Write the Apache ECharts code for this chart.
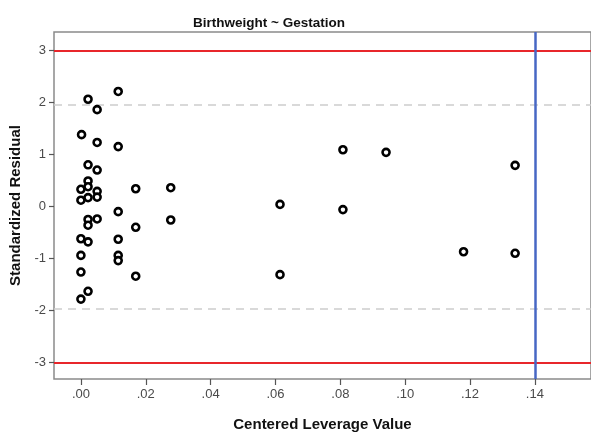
<!DOCTYPE html>
<html>
<head>
<meta charset="utf-8">
<script src="https://cdn.jsdelivr.net/npm/echarts@6/dist/echarts.min.js"></script>
<style>
  html, body { margin: 0; padding: 0; background: #fff; }
  #main { width: 591px; height: 437px; }
</style>
</head>
<body>
<div id="main"></div>
<script>
    // centered leverage (x) and standardized residual (y)
    var leverage = [
        0.0002, 0.0000, 0.0000, 0.0000, 0.0000, 0.0000, 0.0000,
        0.0022, 0.0022, 0.0022, 0.0022, 0.0022, 0.0022, 0.0022, 0.0022, 0.0022,
        0.0050, 0.0050, 0.0050, 0.0050, 0.0050, 0.0050,
        0.0115, 0.0115, 0.0115, 0.0115, 0.0115, 0.0115,
        0.0169, 0.0169, 0.0169,
        0.0277, 0.0277,
        0.0614, 0.0614,
        0.0808, 0.0808,
        0.0941,
        0.1180,
        0.1339, 0.1339
    ];
    var residual = [
        1.38, 0.33, 0.12, -0.62, -0.94, -1.26, -1.78,
        2.06, 0.80, 0.49, 0.38, 0.17, -0.25, -0.36, -0.68, -1.63,
        1.86, 1.23, 0.70, 0.29, 0.18, -0.24,
        2.21, 1.15, -0.10, -0.63, -0.94, -1.04,
        0.34, -0.40, -1.34,
        0.36, -0.26,
        0.04, -1.31,
        1.09, -0.06,
        1.04,
        -0.87,
        0.79, -0.90
    ];
    var xTicks = [0, 0.02, 0.04, 0.06, 0.08, 0.10, 0.12, 0.14];
    var yTicks = [-3, -2, -1, 0, 1, 2, 3];
    var redLines = [-3, 3];
    var dashLines = [-1.96, 1.96];
    var leverageCut = 0.14;

    var chart = echarts.init(document.getElementById('main'));

    var points = [];
    for (var i = 0; i < leverage.length; i++) {
        points.push([leverage[i], residual[i]]);
    }

    var font = '"Liberation Sans", Arial, sans-serif';

    var option = {
        animation: false,
        backgroundColor: '#fff',
        title: {
            text: 'Birthweight ~ Gestation',
            left: 264,
            top: 11,
            textAlign: 'center',
            textStyle: { fontFamily: font, fontSize: 13.5, fontWeight: 'bold', color: '#111' }
        },
        grid: {
            left: 54, top: 32, right: -2, bottom: 51,
            show: true,
            borderColor: '#8a8a8a',
            borderWidth: 1.5,
            backgroundColor: '#fff'
        },
        xAxis: {
            type: 'value',
            min: -0.0083,
            max: 0.1573,
            name: 'Centered Leverage Value',
            nameLocation: 'middle',
            nameGap: 38,
            nameTextStyle: { fontFamily: font, fontSize: 15, fontWeight: 'bold', color: '#111' },
            axisLine: { show: false, onZero: false },
            axisTick: {
                show: true, length: 6, customValues: xTicks,
                lineStyle: { color: '#555', width: 1.2 }
            },
            axisLabel: {
                customValues: xTicks,
                margin: 9,
                fontFamily: font, fontSize: 13, color: '#4a4a4a',
                formatter: function (v) { return v.toFixed(2).replace(/^0/, ''); }
            },
            splitLine: { show: false }
        },
        yAxis: {
            type: 'value',
            min: -3.315,
            max: 3.352,
            name: 'Standardized Residual',
            nameLocation: 'middle',
            nameGap: 30,
            nameTextStyle: { fontFamily: font, fontSize: 15, fontWeight: 'bold', color: '#111' },
            axisLine: { show: false, onZero: false },
            axisTick: {
                show: true, length: 5, customValues: yTicks,
                lineStyle: { color: '#555', width: 1.2 }
            },
            axisLabel: {
                customValues: yTicks,
                margin: 8,
                fontFamily: font, fontSize: 13, color: '#4a4a4a'
            },
            splitLine: { show: false }
        },
        series: [
            {
                type: 'scatter',
                data: [],
                silent: true,
                markLine: {
                    symbol: 'none',
                    silent: true,
                    label: { show: false },
                    lineStyle: { color: '#cdcdcd', width: 1.5, type: [8, 6] },
                    data: dashLines.map(function (v) { return { yAxis: v }; })
                }
            },
            {
                type: 'scatter',
                data: [],
                silent: true,
                markLine: {
                    symbol: 'none',
                    silent: true,
                    label: { show: false },
                    lineStyle: { color: '#e8262b', width: 2, type: 'solid' },
                    data: redLines.map(function (v) { return { yAxis: v }; })
                }
            },
            {
                type: 'scatter',
                data: [],
                silent: true,
                markLine: {
                    symbol: 'none',
                    silent: true,
                    label: { show: false },
                    lineStyle: { color: '#4767c4', width: 2.5, type: 'solid' },
                    data: [{ xAxis: leverageCut }]
                }
            },
            {
                type: 'scatter',
                data: points,
                symbol: 'circle',
                symbolSize: 7,
                itemStyle: { color: '#fff', borderColor: '#000', borderWidth: 2.6, opacity: 1 },
                z: 5
            }
        ]
    };

    chart.setOption(option);
</script>
</body>
</html>
